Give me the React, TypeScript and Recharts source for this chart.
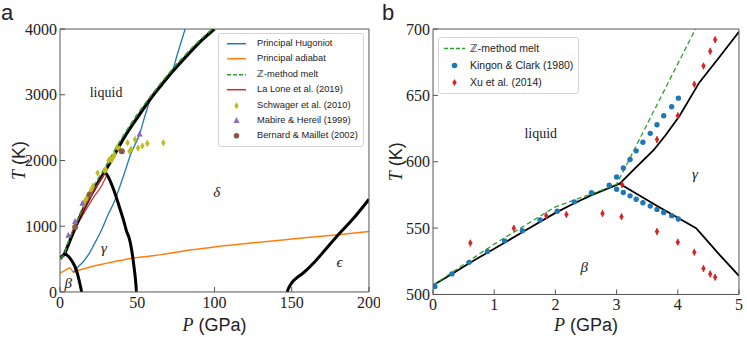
import React from "react";
import {
  ComposedChart,
  Line,
  Scatter,
  XAxis,
  YAxis,
  ErrorBar,
  Legend,
  ReferenceDot,
  Label,
} from "recharts";

type Pt = { P: number; T: number; e?: number };
const pts = (rows: number[][]): Pt[] => rows.map(([P, T, e]) => ({ P, T, e }));

// ---- panel a: Sn phase diagram up to 200 GPa ----
const meltA = pts([
  [0, 505], [1.5, 545], [3, 583], [4, 640], [5, 698], [7, 815], [9.7, 969], [14, 1200],
  [18.3, 1400], [24, 1640], [29, 1830], [35, 2080], [41, 2330], [50, 2650], [58, 2920],
  [65, 3130], [72, 3330], [80, 3540], [90, 3790], [100, 4000],
]);
const zMeltA = pts([
  [0, 510], [3, 586], [4.3, 700], [6, 800], [9.7, 1010], [14, 1250], [18.3, 1460],
  [24, 1700], [29, 1890], [35, 2140], [41, 2380], [50, 2700], [58, 2960], [65, 3170],
  [72, 3370], [80, 3580], [90, 3820], [100, 4030],
]);
const betaGammaA = pts([
  [3, 583], [4.5, 560], [6.5, 512], [8.5, 440], [9.7, 385], [11, 300], [12.3, 182], [13.3, 80], [14, 0],
]);
const gammaDeltaA = pts([
  [29, 1830], [31, 1760], [33, 1660], [35, 1540], [37, 1400], [39, 1250], [41, 1100],
  [43, 930], [45, 800], [46.5, 620], [47.8, 400], [48.8, 200], [49.5, 0],
]);
const deltaEpsA = pts([
  [147, 0], [148, 60], [150, 140], [153, 210], [158, 300], [164, 436], [172, 650],
  [180, 867], [190, 1120], [200, 1410],
]);
const hugoniotA = pts([
  [8.6, 300], [12, 390], [15, 460], [18.3, 563], [22, 720], [27, 950], [31, 1170],
  [35.6, 1400], [41, 1760], [46, 2110], [51.5, 2400], [55, 2680], [58.3, 2920],
  [65, 3140], [72.3, 3330], [76, 3620], [81, 4000],
]);
const adiabatA = pts([
  [0, 290], [3, 325], [6.5, 370], [8.6, 300], [12, 330], [20, 385], [30, 435], [45, 505],
  [61.5, 555], [80, 625], [100, 685], [125, 748], [150, 805], [180, 872], [200, 920],
]);
const laLoneUpper = pts([[7.5, 900], [12, 1110], [17, 1340], [22, 1550], [27, 1730], [30, 1840]]);
const laLoneLower = pts([[7.5, 880], [12, 1060], [17, 1260], [22, 1450], [27, 1620], [30, 1760]]);
const schwager = pts([
  [15.3, 1340, 45], [16.3, 1390, 45], [17.3, 1430, 45], [18.3, 1480, 45], [19.5, 1520, 45],
  [20.5, 1570, 45], [21.3, 1610, 45], [24.3, 1810, 45], [28.7, 1850, 45], [29.7, 1860, 45],
  [31.5, 2000, 45], [32.5, 2020, 45], [33.5, 2010, 45], [34.5, 2050, 45], [35.3, 2090, 45],
  [37, 2200, 45], [38.6, 2180, 45], [43.7, 2270, 45], [45, 2140, 45], [46, 2170, 45],
  [48.5, 2320, 45], [50.5, 2190, 45], [53.3, 2220, 45], [56.5, 2260, 45], [66.9, 2270, 45],
]);
const mabire = pts([[5.4, 860], [9.7, 1070], [14.5, 1350], [51.5, 2400]]);
const bernard = pts([[9.8, 990], [19.2, 1480], [40, 2140]]);

// ---- panel b: low-pressure close-up ----
const meltB = pts([
  [0, 507], [0.31, 515.5], [0.59, 523.5], [1, 534.5], [1.5, 548], [2, 561.5], [2.3, 568.5],
  [2.6, 575], [3.05, 583.5], [3.3, 595], [3.6, 608.5], [3.8, 620], [4.03, 634.7],
  [4.35, 659.6], [4.7, 680], [5, 698],
]);
const betaGammaB = pts([[3.05, 583.5], [3.65, 567], [4.3, 550], [4.68, 530], [5, 514]]);
const zMeltB = pts([[0, 507], [1, 538], [2, 566], [2.9, 581], [3.0, 583], [4.3, 701]]);
const kingon = pts([
  [0.03, 506], [0.31, 515.5], [0.59, 524.2], [0.89, 532.4], [1.17, 540.4], [1.46, 548.1],
  [1.75, 556.1], [2.03, 562.8], [2.31, 569.8], [2.59, 576.6], [2.88, 582.3],
  [3.0, 588.5], [3.11, 595.3], [3.22, 601.7], [3.32, 608.2], [3.43, 614.7], [3.55, 621.4],
  [3.66, 627.9], [3.77, 634.7], [3.9, 641.4], [4.01, 647.9],
  [3.0, 579.3], [3.11, 576.8], [3.22, 574.3], [3.32, 571.8], [3.43, 569.1], [3.55, 566.6],
  [3.66, 564.1], [3.77, 561.8], [3.9, 559.4], [4.01, 556.9],
]);
const xu = pts([
  [0.61, 538.7, 2.5], [1.32, 549.9, 2.5], [1.85, 559.4, 2.5], [2.18, 560.3, 2.5],
  [2.77, 561.1, 2.5], [3.09, 582.8, 2.5], [3.08, 558.6, 2.5], [3.66, 616.7, 2.5],
  [3.66, 547.4, 2.5], [4.0, 634.7, 2.5], [4.0, 539.4, 2.5], [4.27, 658.4, 2.5],
  [4.27, 531.9, 2.5], [4.42, 672.1, 2.5], [4.42, 519.5, 2.5], [4.53, 683.3, 2.5],
  [4.53, 515.5, 2.5], [4.61, 692, 2.5], [4.61, 513, 2.5],
]);

const xTicksA = [0, 50, 100, 150, 200];
const yTicksA = [0, 1000, 2000, 3000, 4000];
const xTicksB = [0, 1, 2, 3, 4, 5];
const yTicksB = [500, 550, 600, 650, 700];

const labelsA = [
  { P: 29.8, T: 3042, text: "liquid", italic: false },
  { P: 101.4, T: 1525, text: "δ", italic: true },
  { P: 28.5, T: 669, text: "γ", italic: true },
  { P: 5.4, T: 137, text: "β", italic: true },
  { P: 181, T: 461, text: "ϵ", italic: true },
];
const labelsB = [
  { P: 1.76, T: 621.5, text: "liquid", italic: false },
  { P: 4.28, T: 591, text: "γ", italic: true },
  { P: 2.47, T: 520.6, text: "β", italic: true },
];

const BLUE = "#1f77b4";
const ORANGE = "#ff7f0e";
const GREEN = "#2ca02c";
const RED = "#d62728";
const PURPLE = "#9467bd";
const BROWN = "#8c564b";
const OLIVE = "#bcbd22";
const AXIS = "#555";
const INK = "#222";
const FONT_SERIF = '"Liberation Serif", "DejaVu Serif", serif';
const FONT_SANS = '"Liberation Sans", "DejaVu Sans", sans-serif';
const THIN = 0.01; // axes need a non-zero box to be drawn

const legendA = [
  { name: "Principal Hugoniot", color: BLUE, kind: "line" },
  { name: "Principal adiabat", color: ORANGE, kind: "line" },
  { name: "ℤ-method melt", color: GREEN, kind: "dash" },
  { name: "La Lone et al. (2019)", color: RED, kind: "line" },
  { name: "Schwager et al. (2010)", color: OLIVE, kind: "diamond" },
  { name: "Mabire & Hereil (1999)", color: PURPLE, kind: "triangle" },
  { name: "Bernard & Maillet (2002)", color: BROWN, kind: "circle" },
];
const legendB = [
  { name: "ℤ-method melt", color: GREEN, kind: "dash" },
  { name: "Kingon & Clark (1980)", color: BLUE, kind: "circle" },
  { name: "Xu et al. (2014)", color: RED, kind: "diamond" },
];

const steps = (a: number, b: number, s: number) => {
  const out: number[] = [];
  for (let v = a; v <= b + 1e-9; v += s) out.push(Math.round(v * 1000) / 1000);
  return out;
};

// marker shapes for the scatter series
const diamond = (color: string, w: number, h: number) => (p: any) =>
  <path d={`M${p.cx},${p.cy - h / 2}L${p.cx + w / 2},${p.cy}L${p.cx},${p.cy + h / 2}L${p.cx - w / 2},${p.cy}Z`} fill={color} />;
const triangle = (color: string, s: number) => (p: any) =>
  <path d={`M${p.cx},${p.cy - s * 0.6}L${p.cx + s / 2},${p.cy + s * 0.4}L${p.cx - s / 2},${p.cy + s * 0.4}Z`} fill={color} />;
const circle = (color: string, r: number) => (p: any) => <circle cx={p.cx} cy={p.cy} r={r} fill={color} />;

function marker(kind: string, color: string, w: number, h: number) {
  const cx = w / 2;
  const cy = h / 2;
  if (kind === "line") return <line x1={0} x2={w} y1={cy} y2={cy} stroke={color} strokeWidth={1.5} />;
  if (kind === "dash") return <line x1={0} x2={w} y1={cy} y2={cy} stroke={color} strokeWidth={1.5} strokeDasharray="4 2" />;
  if (kind === "diamond") return diamond(color, 4.5, 7)({ cx, cy });
  if (kind === "triangle") return triangle(color, 6)({ cx, cy });
  return <circle cx={cx} cy={cy} r={2.8} fill={color} />;
}

function LegendBox({ items, rowH, sampleLeft, sampleW, textLeft, fontSize, width }: any) {
  return (
    <div
      style={{
        width,
        boxSizing: "border-box",
        background: "#fff",
        border: "1px solid #d4d4d4",
        borderRadius: 3,
        padding: "2px 0",
        fontFamily: FONT_SANS,
        fontSize,
        color: INK,
      }}
    >
      {items.map((it: any) => (
        <div key={it.name} style={{ position: "relative", height: rowH, lineHeight: `${rowH}px`, paddingLeft: textLeft, whiteSpace: "nowrap" }}>
          <svg width={sampleW} height={rowH} style={{ position: "absolute", left: sampleLeft, top: 0 }}>
            {marker(it.kind, it.color, sampleW, rowH)}
          </svg>
          {it.name}
        </div>
      ))}
    </div>
  );
}

const xTitle = (dy: number) => (props: any) => {
  const { x, y, width } = props.viewBox;
  return (
    <text x={x + width / 2} y={y + dy} textAnchor="middle" fontSize={18} fill={INK}>
      <tspan fontFamily={FONT_SERIF} fontStyle="italic">P</tspan>
      <tspan fontFamily={FONT_SANS}> (GPa)</tspan>
    </text>
  );
};
const yTitle = (dx: number) => (props: any) => {
  const { x, y, height } = props.viewBox;
  const cx = x + dx;
  const cy = y + height / 2;
  return (
    <text x={cx} y={cy} textAnchor="middle" dominantBaseline="central" fontSize={18} fill={INK} transform={`rotate(-90, ${cx}, ${cy})`}>
      <tspan fontFamily={FONT_SERIF} fontStyle="italic">T</tspan>
      <tspan fontFamily={FONT_SANS}> (K)</tspan>
    </text>
  );
};

// inward ticks on all four sides, matplotlib-style frame
function frameAxes(xDom: number[], yDom: number[], xMaj: number[], xMin: number[], yMaj: number[], yMin: number[]) {
  const c = { type: "number" as const, allowDataOverflow: true, interval: 0 as const, stroke: AXIS };
  return [
    <XAxis key="xb" xAxisId="xb" {...c} domain={xDom} ticks={xMin} height={THIN} tick={false} tickSize={-2.5} axisLine={false} />,
    <XAxis key="xt" xAxisId="xt" orientation="top" {...c} domain={xDom} ticks={xMaj} height={THIN} tick={false} tickSize={-5} />,
    <XAxis key="xtm" xAxisId="xtm" orientation="top" {...c} domain={xDom} ticks={xMin} height={THIN} tick={false} tickSize={-2.5} axisLine={false} />,
    <YAxis key="yl" yAxisId="yl" {...c} domain={yDom} ticks={yMin} width={THIN} tick={false} tickSize={-2.5} axisLine={false} />,
    <YAxis key="yr" yAxisId="yr" orientation="right" {...c} domain={yDom} ticks={yMaj} width={THIN} tick={false} tickSize={-5} />,
    <YAxis key="yrm" yAxisId="yrm" orientation="right" {...c} domain={yDom} ticks={yMin} width={THIN} tick={false} tickSize={-2.5} axisLine={false} />,
  ];
}

const tickStyle = { fill: INK, fontSize: 16, fontFamily: FONT_SERIF };

function curve(data: Pt[], color: string, width: number, dash?: string, type: any = "monotone") {
  return (
    <Line
      key={`${color}-${data[0].P}-${data[0].T}`}
      xAxisId="x"
      yAxisId="y"
      data={data}
      dataKey="T"
      type={type}
      stroke={color}
      strokeWidth={width}
      strokeDasharray={dash}
      dot={false}
      activeDot={false}
      isAnimationActive={false}
    />
  );
}

function regionLabel(l: any) {
  return (
    <ReferenceDot
      key={l.text + l.P}
      xAxisId="x"
      yAxisId="y"
      x={l.P}
      y={l.T}
      r={0}
      fill="none"
      stroke="none"
      label={<Label value={l.text} position="center" fill={INK} fontSize={l.italic ? 15 : 14} fontFamily={FONT_SERIF} fontStyle={l.italic ? "italic" : "normal"} />}
    />
  );
}

function PanelA() {
  return (
    <ComposedChart width={380} height={337} margin={{ top: 29, right: 11, bottom: 45, left: 60 }}>
      <XAxis xAxisId="x" dataKey="P" type="number" domain={[0, 200]} ticks={xTicksA} interval={0} allowDataOverflow height={THIN}
        tickSize={-5} tickMargin={10} stroke={AXIS} tick={tickStyle} label={{ content: xTitle(39) }} />
      <YAxis yAxisId="y" dataKey="T" type="number" domain={[0, 4000]} ticks={yTicksA} interval={0} allowDataOverflow width={THIN}
        tickSize={-5} tickMargin={8} stroke={AXIS} tick={tickStyle} label={{ content: yTitle(-41) }} />
      {frameAxes([0, 200], [0, 4000], xTicksA, steps(0, 200, 10), yTicksA, steps(0, 4000, 200))}

      {curve(adiabatA, ORANGE, 1.5)}
      {curve(hugoniotA, BLUE, 1.3)}
      {curve(laLoneLower, RED, 1.2)}
      {curve(betaGammaA, "#000", 3)}
      {curve(gammaDeltaA, "#000", 3)}
      {curve(deltaEpsA, "#000", 3)}
      {curve(meltA, "#000", 3.2)}
      {curve(laLoneUpper, RED, 1.2)}
      {curve(zMeltA, GREEN, 1.5, "5 3")}

      <Scatter xAxisId="x" yAxisId="y" data={schwager} dataKey="T" shape={diamond(OLIVE, 4.5, 7)} isAnimationActive={false}>
        <ErrorBar dataKey="e" direction="y" width={0} stroke={OLIVE} strokeWidth={1.2} isAnimationActive={false} />
      </Scatter>
      <Scatter xAxisId="x" yAxisId="y" data={mabire} dataKey="T" shape={triangle(PURPLE, 6)} isAnimationActive={false} />
      <Scatter xAxisId="x" yAxisId="y" data={bernard} dataKey="T" shape={circle(BROWN, 3)} isAnimationActive={false} />

      {labelsA.map(regionLabel)}

      <Legend
        layout="vertical"
        align="center"
        verticalAlign="middle"
        wrapperStyle={{ left: 218, top: 33, width: 146 }}
        content={() => (
          <LegendBox items={legendA} rowH={15.4} sampleLeft={8} sampleW={19} textLeft={38} fontSize={9.3} width={146} />
        )}
      />
    </ComposedChart>
  );
}

function PanelB() {
  return (
    <ComposedChart width={367} height={337} margin={{ top: 29, right: 8, bottom: 42.5, left: 53 }}>
      <XAxis xAxisId="x" dataKey="P" type="number" domain={[0, 5]} ticks={xTicksB} interval={0} allowDataOverflow height={THIN}
        tickSize={-5} tickMargin={9} stroke={AXIS} tick={tickStyle} label={{ content: xTitle(36.5) }} />
      <YAxis yAxisId="y" dataKey="T" type="number" domain={[500, 700]} ticks={yTicksB} interval={0} allowDataOverflow width={THIN}
        tickSize={-5} tickMargin={8} stroke={AXIS} tick={tickStyle} label={{ content: yTitle(-37.5) }} />
      {frameAxes([0, 5], [500, 700], xTicksB, steps(0, 5, 0.2), yTicksB, steps(500, 700, 10))}

      {curve(meltB, "#000", 1.8, undefined, "linear")}
      {curve(betaGammaB, "#000", 1.8, undefined, "linear")}
      {curve(zMeltB, GREEN, 1.3, "5 3", "linear")}

      <Scatter xAxisId="x" yAxisId="y" data={kingon} dataKey="T" shape={circle(BLUE, 2.7)} isAnimationActive={false} />
      <Scatter xAxisId="x" yAxisId="y" data={xu} dataKey="T" shape={diamond(RED, 4.5, 7)} isAnimationActive={false}>
        <ErrorBar dataKey="e" direction="y" width={0} stroke={RED} strokeWidth={1.2} isAnimationActive={false} />
      </Scatter>

      {labelsB.map(regionLabel)}

      <Legend
        layout="vertical"
        align="center"
        verticalAlign="middle"
        wrapperStyle={{ left: 58, top: 37, width: 141 }}
        content={() => (
          <LegendBox items={legendB} rowH={17} sampleLeft={5} sampleW={21} textLeft={31} fontSize={10.5} width={141} />
        )}
      />
    </ComposedChart>
  );
}

const panelTag: React.CSSProperties = {
  position: "absolute",
  top: 0,
  fontFamily: FONT_SANS,
  fontSize: 22,
  lineHeight: "normal",
  color: INK,
};

export default function App() {
  return (
    <div style={{ position: "absolute", left: 0, top: 0, width: 747, height: 337, background: "#fff", overflow: "hidden" }}>
      <div style={{ position: "absolute", left: 0, top: 0 }}>
        <PanelA />
      </div>
      <div style={{ position: "absolute", left: 380, top: 0 }}>
        <PanelB />
      </div>
      <div style={{ ...panelTag, left: 1 }}>a</div>
      <div style={{ ...panelTag, left: 382 }}>b</div>
    </div>
  );
}
